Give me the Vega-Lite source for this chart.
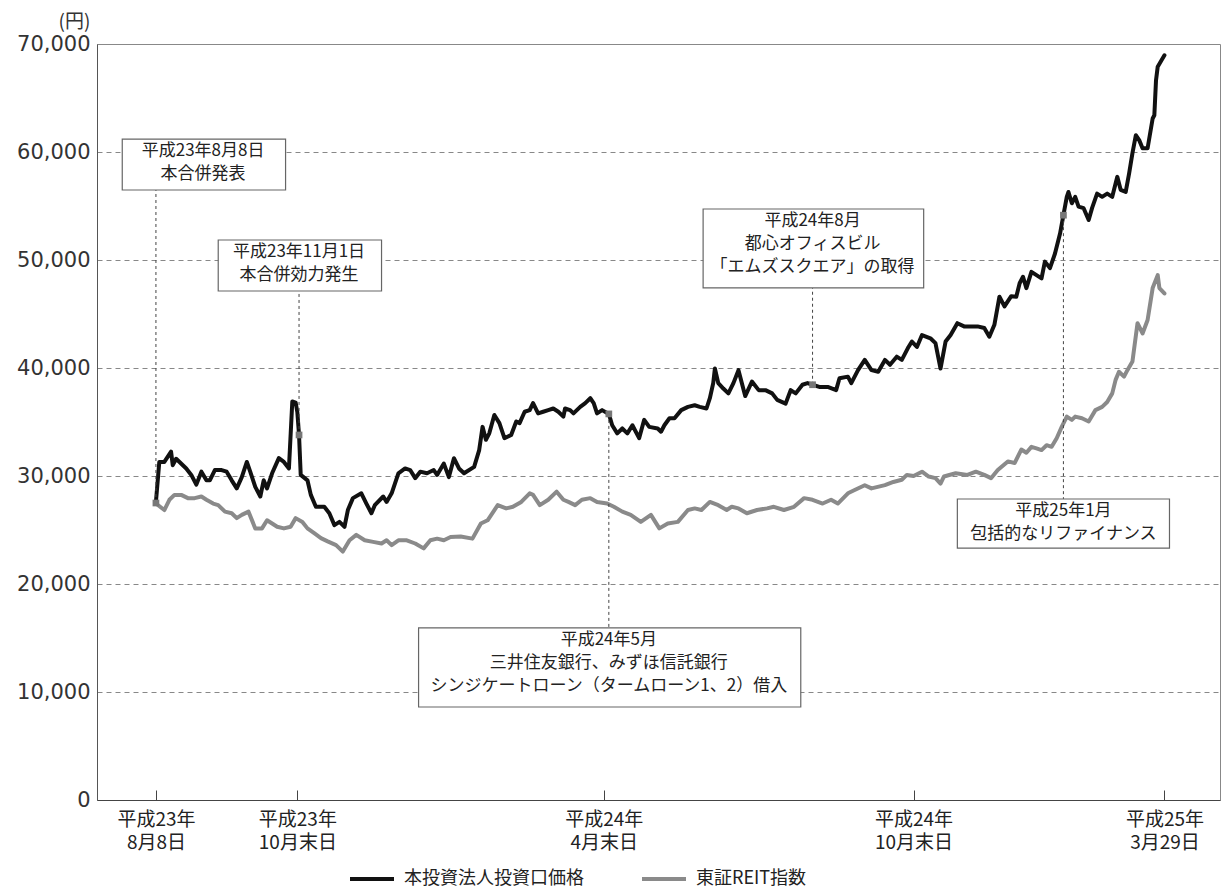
{
  "$schema": "https://vega.github.io/schema/vega-lite/v6.json",
  "width": 1123,
  "height": 756,
  "autosize": "none",
  "padding": {"left": 97, "top": 44, "right": 3, "bottom": 90},
  "background": "white",
  "config": {
    "view": {"stroke": "#888", "strokeWidth": 1},
    "font": "Noto Sans CJK JP",
    "legend": {
      "orient": "none", "legendX": 251, "legendY": 811, "direction": "horizontal",
      "symbolType": "stroke", "symbolSize": 1936, "symbolStrokeWidth": 4,
      "labelFontSize": 18, "labelFont": "Noto Sans CJK JP", "labelColor": "#222", "labelLimit": 400,
      "labelOffset": 8, "columnPadding": 50, "padding": 0
    }
  },
  "datasets": {
    "price": [
      {"date":"2011-08-08","value":27600},{"date":"2011-08-10","value":31300},{"date":"2011-08-13","value":31300},{"date":"2011-08-17","value":32250},{"date":"2011-08-18","value":31000},{"date":"2011-08-20","value":31600},{"date":"2011-08-22","value":31300},{"date":"2011-08-26","value":30700},{"date":"2011-08-29","value":30100},{"date":"2011-09-01","value":29200},{"date":"2011-09-04","value":30400},{"date":"2011-09-07","value":29600},{"date":"2011-09-09","value":29600},{"date":"2011-09-12","value":30550},{"date":"2011-09-16","value":30550},{"date":"2011-09-19","value":30400},{"date":"2011-09-22","value":29600},{"date":"2011-09-25","value":28850},{"date":"2011-09-28","value":29900},{"date":"2011-10-01","value":31300},{"date":"2011-10-03","value":30400},{"date":"2011-10-06","value":29000},{"date":"2011-10-09","value":28100},{"date":"2011-10-11","value":29600},{"date":"2011-10-13","value":28850},{"date":"2011-10-16","value":30250},{"date":"2011-10-20","value":31650},{"date":"2011-10-23","value":31300},{"date":"2011-10-26","value":30700},{"date":"2011-10-28","value":36900},{"date":"2011-10-30","value":36800},{"date":"2011-10-31","value":35900},{"date":"2011-11-01","value":33800},{"date":"2011-11-02","value":30100},{"date":"2011-11-06","value":29600},{"date":"2011-11-08","value":28250},{"date":"2011-11-11","value":27150},{"date":"2011-11-16","value":27150},{"date":"2011-11-19","value":26550},{"date":"2011-11-22","value":25450},{"date":"2011-11-25","value":25750},{"date":"2011-11-28","value":25300},{"date":"2011-11-30","value":26850},{"date":"2011-12-03","value":27950},{"date":"2011-12-08","value":28400},{"date":"2011-12-11","value":27450},{"date":"2011-12-14","value":26550},{"date":"2011-12-16","value":27300},{"date":"2011-12-21","value":28100},{"date":"2011-12-23","value":27600},{"date":"2011-12-26","value":28400},{"date":"2011-12-30","value":30250},{"date":"2012-01-03","value":30700},{"date":"2012-01-06","value":30550},{"date":"2012-01-09","value":29800},{"date":"2012-01-12","value":30400},{"date":"2012-01-16","value":30250},{"date":"2012-01-20","value":30550},{"date":"2012-01-22","value":30100},{"date":"2012-01-26","value":31150},{"date":"2012-01-29","value":29900},{"date":"2012-02-01","value":31650},{"date":"2012-02-04","value":30700},{"date":"2012-02-07","value":30250},{"date":"2012-02-13","value":30850},{"date":"2012-02-16","value":32400},{"date":"2012-02-18","value":34550},{"date":"2012-02-20","value":33350},{"date":"2012-02-22","value":33950},{"date":"2012-02-25","value":35650},{"date":"2012-02-28","value":34900},{"date":"2012-03-02","value":33500},{"date":"2012-03-06","value":33800},{"date":"2012-03-09","value":35050},{"date":"2012-03-11","value":34900},{"date":"2012-03-14","value":35950},{"date":"2012-03-17","value":36100},{"date":"2012-03-19","value":36750},{"date":"2012-03-22","value":35800},{"date":"2012-03-25","value":35950},{"date":"2012-03-28","value":36100},{"date":"2012-03-31","value":36250},{"date":"2012-04-03","value":35950},{"date":"2012-04-06","value":35500},{"date":"2012-04-07","value":36250},{"date":"2012-04-10","value":36100},{"date":"2012-04-12","value":35800},{"date":"2012-04-16","value":36400},{"date":"2012-04-19","value":36750},{"date":"2012-04-22","value":37200},{"date":"2012-04-24","value":36750},{"date":"2012-04-26","value":35800},{"date":"2012-04-29","value":36100},{"date":"2012-05-03","value":35750},{"date":"2012-05-05","value":34700},{"date":"2012-05-08","value":33950},{"date":"2012-05-11","value":34400},{"date":"2012-05-14","value":33950},{"date":"2012-05-17","value":34700},{"date":"2012-05-21","value":33500},{"date":"2012-05-24","value":35200},{"date":"2012-05-27","value":34550},{"date":"2012-06-01","value":34400},{"date":"2012-06-03","value":34100},{"date":"2012-06-05","value":34700},{"date":"2012-06-08","value":35350},{"date":"2012-06-11","value":35350},{"date":"2012-06-15","value":36100},{"date":"2012-06-19","value":36400},{"date":"2012-06-23","value":36550},{"date":"2012-06-26","value":36400},{"date":"2012-06-30","value":36250},{"date":"2012-07-02","value":37200},{"date":"2012-07-04","value":38600},{"date":"2012-07-05","value":39950},{"date":"2012-07-07","value":38600},{"date":"2012-07-10","value":38100},{"date":"2012-07-13","value":37650},{"date":"2012-07-16","value":38600},{"date":"2012-07-19","value":39800},{"date":"2012-07-23","value":37400},{"date":"2012-07-27","value":38750},{"date":"2012-07-31","value":37950},{"date":"2012-08-04","value":37950},{"date":"2012-08-08","value":37650},{"date":"2012-08-11","value":37050},{"date":"2012-08-16","value":36700},{"date":"2012-08-19","value":37950},{"date":"2012-08-22","value":37650},{"date":"2012-08-26","value":38450},{"date":"2012-08-29","value":38600},{"date":"2012-09-01","value":38450},{"date":"2012-09-05","value":38250},{"date":"2012-09-10","value":38250},{"date":"2012-09-15","value":37950},{"date":"2012-09-17","value":39050},{"date":"2012-09-22","value":39200},{"date":"2012-09-24","value":38600},{"date":"2012-09-28","value":39800},{"date":"2012-10-02","value":40750},{"date":"2012-10-06","value":39800},{"date":"2012-10-10","value":39650},{"date":"2012-10-14","value":40750},{"date":"2012-10-17","value":40300},{"date":"2012-10-21","value":41050},{"date":"2012-10-24","value":40750},{"date":"2012-10-28","value":41950},{"date":"2012-10-30","value":42450},{"date":"2012-11-02","value":41950},{"date":"2012-11-05","value":43050},{"date":"2012-11-10","value":42750},{"date":"2012-11-13","value":42300},{"date":"2012-11-16","value":39950},{"date":"2012-11-19","value":42450},{"date":"2012-11-22","value":43050},{"date":"2012-11-26","value":44150},{"date":"2012-11-30","value":43850},{"date":"2012-12-08","value":43850},{"date":"2012-12-12","value":43700},{"date":"2012-12-15","value":42900},{"date":"2012-12-18","value":44000},{"date":"2012-12-21","value":46600},{"date":"2012-12-24","value":45700},{"date":"2012-12-28","value":46650},{"date":"2012-12-31","value":46600},{"date":"2013-01-02","value":47850},{"date":"2013-01-04","value":48450},{"date":"2013-01-06","value":47400},{"date":"2013-01-09","value":48900},{"date":"2013-01-12","value":48600},{"date":"2013-01-15","value":48300},{"date":"2013-01-17","value":49850},{"date":"2013-01-20","value":49250},{"date":"2013-01-23","value":50600},{"date":"2013-01-26","value":52450},{"date":"2013-01-28","value":54150},{"date":"2013-01-30","value":55850},{"date":"2013-01-31","value":56300},{"date":"2013-02-02","value":55250},{"date":"2013-02-04","value":55850},{"date":"2013-02-06","value":54950},{"date":"2013-02-09","value":54800},{"date":"2013-02-12","value":53700},{"date":"2013-02-14","value":54800},{"date":"2013-02-17","value":56150},{"date":"2013-02-20","value":55850},{"date":"2013-02-23","value":56150},{"date":"2013-02-26","value":55850},{"date":"2013-03-01","value":57700},{"date":"2013-03-03","value":56500},{"date":"2013-03-06","value":56300},{"date":"2013-03-08","value":58000},{"date":"2013-03-10","value":59900},{"date":"2013-03-12","value":61550},{"date":"2013-03-14","value":61100},{"date":"2013-03-16","value":60350},{"date":"2013-03-19","value":60350},{"date":"2013-03-22","value":63100},{"date":"2013-03-23","value":63400},{"date":"2013-03-24","value":66650},{"date":"2013-03-25","value":67900},{"date":"2013-03-29","value":68950}
    ],
    "reit": [
      {"date":"2011-08-08","value":27450},{"date":"2011-08-13","value":26850},{"date":"2011-08-16","value":27800},{"date":"2011-08-19","value":28250},{"date":"2011-08-23","value":28250},{"date":"2011-08-27","value":27950},{"date":"2011-08-31","value":27950},{"date":"2011-09-04","value":28100},{"date":"2011-09-07","value":27800},{"date":"2011-09-11","value":27450},{"date":"2011-09-14","value":27300},{"date":"2011-09-18","value":26700},{"date":"2011-09-22","value":26550},{"date":"2011-09-25","value":26100},{"date":"2011-09-28","value":26400},{"date":"2011-10-02","value":26700},{"date":"2011-10-06","value":25150},{"date":"2011-10-10","value":25150},{"date":"2011-10-13","value":25900},{"date":"2011-10-16","value":25600},{"date":"2011-10-19","value":25300},{"date":"2011-10-23","value":25150},{"date":"2011-10-27","value":25300},{"date":"2011-10-30","value":26100},{"date":"2011-11-03","value":25750},{"date":"2011-11-06","value":25150},{"date":"2011-11-10","value":24700},{"date":"2011-11-14","value":24250},{"date":"2011-11-18","value":23950},{"date":"2011-11-23","value":23600},{"date":"2011-11-27","value":23000},{"date":"2011-12-01","value":24050},{"date":"2011-12-05","value":24550},{"date":"2011-12-10","value":24050},{"date":"2011-12-15","value":23900},{"date":"2011-12-20","value":23750},{"date":"2011-12-23","value":24050},{"date":"2011-12-26","value":23600},{"date":"2011-12-30","value":24050},{"date":"2012-01-04","value":24050},{"date":"2012-01-09","value":23750},{"date":"2012-01-14","value":23300},{"date":"2012-01-18","value":24050},{"date":"2012-01-22","value":24200},{"date":"2012-01-26","value":24050},{"date":"2012-01-30","value":24350},{"date":"2012-02-05","value":24400},{"date":"2012-02-12","value":24200},{"date":"2012-02-17","value":25600},{"date":"2012-02-21","value":25900},{"date":"2012-02-27","value":27300},{"date":"2012-03-03","value":27000},{"date":"2012-03-07","value":27150},{"date":"2012-03-12","value":27600},{"date":"2012-03-17","value":28400},{"date":"2012-03-19","value":28250},{"date":"2012-03-23","value":27300},{"date":"2012-03-28","value":27800},{"date":"2012-04-02","value":28550},{"date":"2012-04-06","value":27800},{"date":"2012-04-09","value":27600},{"date":"2012-04-13","value":27300},{"date":"2012-04-17","value":27800},{"date":"2012-04-22","value":27950},{"date":"2012-04-26","value":27600},{"date":"2012-05-02","value":27450},{"date":"2012-05-06","value":27150},{"date":"2012-05-11","value":26700},{"date":"2012-05-16","value":26400},{"date":"2012-05-22","value":25750},{"date":"2012-05-28","value":26400},{"date":"2012-06-02","value":25150},{"date":"2012-06-07","value":25600},{"date":"2012-06-13","value":25750},{"date":"2012-06-19","value":26850},{"date":"2012-06-23","value":27000},{"date":"2012-06-27","value":26850},{"date":"2012-07-02","value":27600},{"date":"2012-07-07","value":27300},{"date":"2012-07-12","value":26850},{"date":"2012-07-15","value":27150},{"date":"2012-07-19","value":27000},{"date":"2012-07-24","value":26550},{"date":"2012-07-30","value":26850},{"date":"2012-08-05","value":27000},{"date":"2012-08-09","value":27150},{"date":"2012-08-15","value":26850},{"date":"2012-08-21","value":27150},{"date":"2012-08-27","value":27950},{"date":"2012-09-01","value":27800},{"date":"2012-09-07","value":27450},{"date":"2012-09-12","value":27800},{"date":"2012-09-16","value":27450},{"date":"2012-09-22","value":28400},{"date":"2012-09-26","value":28700},{"date":"2012-10-02","value":29150},{"date":"2012-10-06","value":28850},{"date":"2012-10-14","value":29150},{"date":"2012-10-19","value":29450},{"date":"2012-10-24","value":29650},{"date":"2012-10-27","value":30100},{"date":"2012-10-31","value":30000},{"date":"2012-11-05","value":30400},{"date":"2012-11-09","value":29950},{"date":"2012-11-13","value":29800},{"date":"2012-11-16","value":29300},{"date":"2012-11-18","value":29950},{"date":"2012-11-25","value":30250},{"date":"2012-12-02","value":30100},{"date":"2012-12-07","value":30400},{"date":"2012-12-12","value":30100},{"date":"2012-12-16","value":29800},{"date":"2012-12-20","value":30550},{"date":"2012-12-26","value":31350},{"date":"2012-12-30","value":31200},{"date":"2013-01-03","value":32450},{"date":"2013-01-06","value":32150},{"date":"2013-01-09","value":32700},{"date":"2013-01-12","value":32550},{"date":"2013-01-15","value":32400},{"date":"2013-01-18","value":32850},{"date":"2013-01-21","value":32700},{"date":"2013-01-24","value":33500},{"date":"2013-01-27","value":34550},{"date":"2013-01-30","value":35500},{"date":"2013-02-02","value":35200},{"date":"2013-02-04","value":35500},{"date":"2013-02-08","value":35350},{"date":"2013-02-12","value":35050},{"date":"2013-02-16","value":36100},{"date":"2013-02-20","value":36400},{"date":"2013-02-23","value":36850},{"date":"2013-02-26","value":37650},{"date":"2013-02-28","value":38900},{"date":"2013-03-02","value":39650},{"date":"2013-03-05","value":39200},{"date":"2013-03-07","value":39800},{"date":"2013-03-10","value":40600},{"date":"2013-03-13","value":44150},{"date":"2013-03-16","value":43200},{"date":"2013-03-19","value":44450},{"date":"2013-03-22","value":47400},{"date":"2013-03-25","value":48600},{"date":"2013-03-26","value":47400},{"date":"2013-03-29","value":46900}
    ],
    "notes": [
      {"date":"2011-08-08","point":27500,"lineEnd":56480,"boxStart":"2011-07-19","boxEnd":"2011-10-24","boxTop":61200,"boxBottom":56480,"labelDate":"2011-09-05","label":"平成23年8月8日\n本合併発表"},
      {"date":"2011-11-01","point":33800,"lineEnd":47130,"boxStart":"2011-09-14","boxEnd":"2011-12-20","boxTop":51850,"boxBottom":47130,"labelDate":"2011-11-01","label":"平成23年11月1日\n本合併効力発生"},
      {"date":"2012-09-01","point":38450,"lineEnd":47410,"boxStart":"2012-06-28","boxEnd":"2012-11-06","boxTop":54720,"boxBottom":47410,"labelDate":"2012-09-01","label":"平成24年8月\n都心オフィスビル\n「エムズスクエア」の取得"},
      {"date":"2012-05-03","point":35750,"lineEnd":15930,"boxStart":"2012-01-11","boxEnd":"2012-08-25","boxTop":15930,"boxBottom":8610,"labelDate":"2012-05-03","label":"平成24年5月\n三井住友銀行、みずほ信託銀行\nシンジケートローン（タームローン1、2）借入"},
      {"date":"2013-01-28","point":54150,"lineEnd":27870,"boxStart":"2012-11-26","boxEnd":"2013-04-01","boxTop":27870,"boxBottom":23330,"labelDate":"2013-01-28","label":"平成25年1月\n包括的なリファイナンス"}
    ]
  },
  "layer": [
    {
      "data": {"name": "reit"},
      "mark": {"type": "line", "strokeWidth": 4, "strokeJoin": "round", "strokeCap": "round"},
      "encoding": {
        "x": {
          "field": "date", "type": "temporal",
          "scale": {"domain": [{"year": 2011, "month": 7, "date": 4}, {"year": 2013, "month": 5, "date": 1}]},
          "axis": {
            "values": [{"year": 2011, "month": 8, "date": 8}, {"year": 2011, "month": 10, "date": 31}, {"year": 2012, "month": 4, "date": 30}, {"year": 2012, "month": 10, "date": 31}, {"year": 2013, "month": 3, "date": 29}],
            "labelExpr": "month(datum.value)==7 ? ['平成23年','8月8日'] : (month(datum.value)==9 && year(datum.value)==2011) ? ['平成23年','10月末日'] : month(datum.value)==3 ? ['平成24年','4月末日'] : month(datum.value)==9 ? ['平成24年','10月末日'] : ['平成25年','3月29日']",
            "title": null, "grid": false, "tickSize": -10, "tickColor": "#444", "domainColor": "#444",
            "labelFont": "Noto Sans CJK JP", "labelFontSize": 19, "labelColor": "#222", "labelLineHeight": 23,
            "labelPadding": 20, "labelOverlap": false, "labelFlush": false
          }
        },
        "y": {
          "field": "value", "type": "quantitative",
          "scale": {"domain": [0, 70000], "nice": false},
          "axis": {
            "values": [0, 10000, 20000, 30000, 40000, 50000, 60000, 70000], "format": ",d",
            "title": "(円)", "titleAngle": 0, "titleX": -23, "titleY": -23, "titleAlign": "center", "titleBaseline": "middle",
            "titleFont": "Noto Sans CJK JP", "titleFontSize": 19, "titleFontWeight": "normal", "titleColor": "#333",
            "labelFont": "DejaVu Sans", "labelFontSize": 21, "labelColor": "#333",
            "ticks": false, "tickSize": 0, "labelPadding": 7, "domainColor": "#555",
            "grid": true, "gridDash": [5, 4], "gridColor": "#888", "gridWidth": 1
          }
        },
        "color": {
          "datum": "東証REIT指数",
          "scale": {"domain": ["本投資法人投資口価格", "東証REIT指数"], "range": ["#111111", "#8a8a8a"]},
          "legend": {"title": null}
        }
      }
    },
    {
      "data": {"name": "price"},
      "mark": {"type": "line", "strokeWidth": 4, "strokeJoin": "round", "strokeCap": "round"},
      "encoding": {
        "x": {"field": "date", "type": "temporal"},
        "y": {"field": "value", "type": "quantitative"},
        "color": {"datum": "本投資法人投資口価格"}
      }
    },
    {
      "mark": {"type": "rule", "color": "#111", "strokeWidth": 1.5},
      "encoding": {"y": {"datum": 70000}}
    },
    {
      "data": {"name": "notes"},
      "mark": {"type": "rule", "color": "#444", "strokeWidth": 1, "strokeDash": [3, 3]},
      "encoding": {
        "x": {"field": "date", "type": "temporal"},
        "y": {"field": "point", "type": "quantitative"},
        "y2": {"field": "lineEnd"}
      }
    },
    {
      "data": {"name": "notes"},
      "mark": {"type": "point", "shape": "square", "filled": true, "size": 45, "color": "#777", "opacity": 1},
      "encoding": {
        "x": {"field": "date", "type": "temporal"},
        "y": {"field": "point", "type": "quantitative"}
      }
    },
    {
      "data": {"name": "notes"},
      "mark": {"type": "rect", "fill": "white", "stroke": "#666", "strokeWidth": 1.2},
      "encoding": {
        "x": {"field": "boxStart", "type": "temporal"},
        "x2": {"field": "boxEnd"},
        "y": {"field": "boxTop", "type": "quantitative"},
        "y2": {"field": "boxBottom"}
      }
    },
    {
      "data": {"name": "notes"},
      "mark": {"type": "text", "align": "center", "baseline": "top", "dy": 4, "lineBreak": "\n", "lineHeight": 23, "fontSize": 17, "font": "Noto Sans CJK JP", "color": "#222"},
      "encoding": {
        "x": {"field": "labelDate", "type": "temporal"},
        "y": {"field": "boxTop", "type": "quantitative"},
        "text": {"field": "label"}
      }
    }
  ]
}
